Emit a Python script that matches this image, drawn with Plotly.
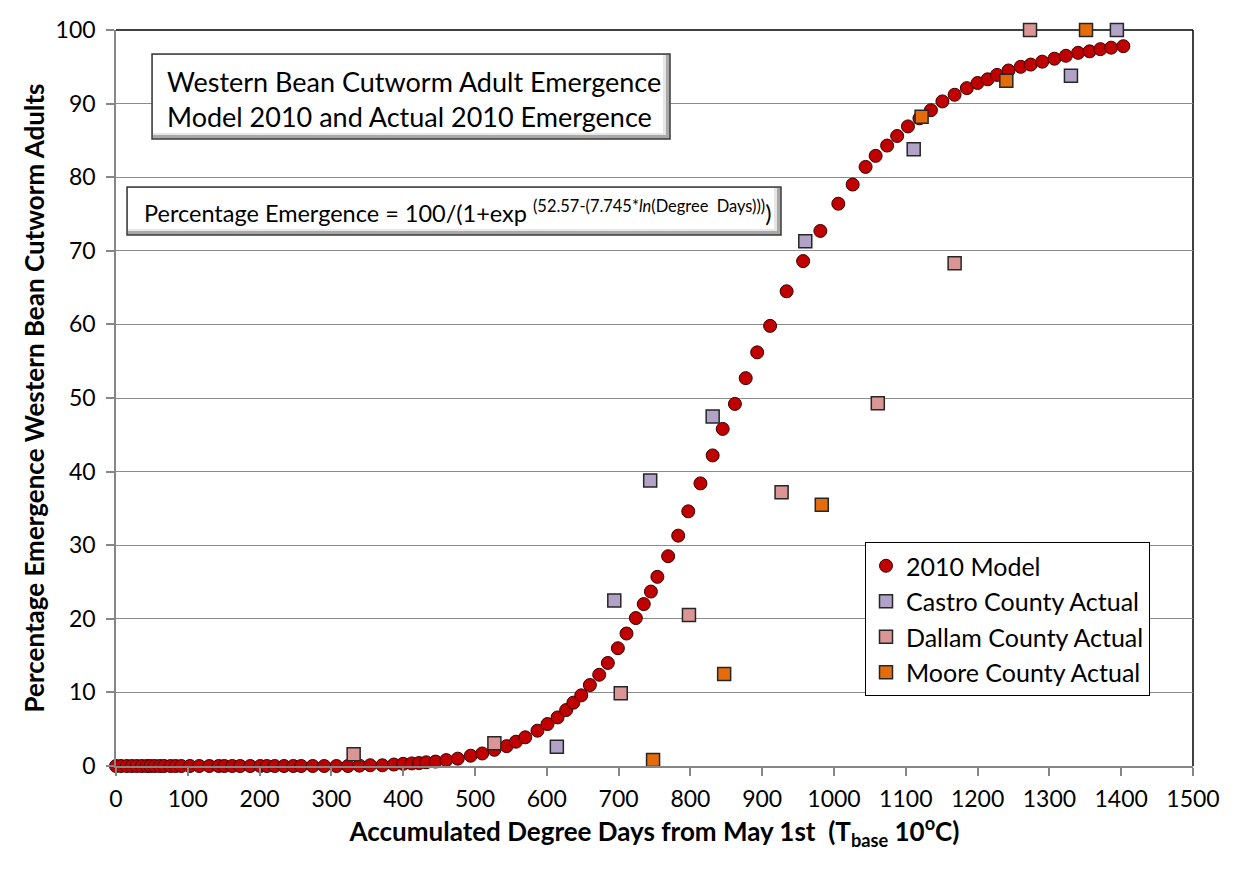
import plotly.graph_objects as go

# ---------------- data ----------------
model_x = [0, 7, 15, 22, 29, 36, 43, 48, 54, 61,
           67, 76, 83, 91, 103, 116, 130, 143, 151, 162,
           173, 187, 201, 210, 221, 234, 247, 258, 274, 290,
           307,
           323, 339, 354, 371, 387, 400, 412, 422, 432, 445,
           460, 476, 494, 510, 527, 544, 557, 570, 587, 601,
           615, 627, 637, 648, 660, 673, 685, 699, 711, 724,
           735, 745, 754, 769, 783, 797, 814, 831, 845, 862,
           877, 893, 911, 934, 957, 981, 1006, 1026, 1044, 1058,
           1074, 1088, 1103, 1119, 1135, 1151, 1168, 1185, 1200, 1214,
           1227, 1243, 1260, 1274, 1290, 1307, 1323, 1340, 1356, 1371,
           1386, 1403]
model_y = [0, 0, 0, 0, 0, 0, 0, 0, 0, 0,
           0, 0, 0, 0, 0, 0, 0, 0, 0, 0,
           0, 0, 0, 0, 0, 0, 0, 0, 0, 0,
           0,
           0.0, 0.05, 0.1, 0.1, 0.2, 0.3, 0.35, 0.4, 0.5, 0.6,
           0.8, 1.0, 1.4, 1.7, 2.2, 2.7, 3.3, 3.9, 4.8, 5.7,
           6.6, 7.6, 8.6, 9.6, 11.0, 12.4, 14.0, 16.0, 18.0, 20.1,
           22.0, 23.7, 25.7, 28.5, 31.3, 34.6, 38.4, 42.2, 45.8, 49.2,
           52.7, 56.2, 59.8, 64.5, 68.6, 72.7, 76.4, 79.0, 81.4, 82.9,
           84.3, 85.6, 86.9, 88.0, 89.1, 90.3, 91.2, 92.1, 92.8, 93.3,
           93.9, 94.5, 95.0, 95.3, 95.7, 96.1, 96.5, 96.9, 97.1, 97.4,
           97.6, 97.8]

castro_x = [614, 694, 744, 831, 960, 1111, 1330, 1394]
castro_y = [2.6, 22.5, 38.8, 47.5, 71.3, 83.8, 93.8, 100]

dallam_x = [331, 527, 703, 798, 927, 1061, 1168, 1273]
dallam_y = [1.6, 3.1, 9.9, 20.5, 37.2, 49.3, 68.3, 100]

moore_x = [748, 847, 983, 1122, 1240, 1351]
moore_y = [0.8, 12.5, 35.5, 88.2, 93.1, 100]

x_ticks = list(range(0, 1501, 100))
y_ticks = list(range(0, 101, 10))

series_names = ["2010 Model", "Castro County Actual", "Dallam County Actual", "Moore County Actual"]

# ---------------- layout geometry ----------------
W, H = 1238, 871
ML, MR, MT, MB = 116, 45, 30, 105
PW, PH = W - ML - MR, H - MT - MB
FONT = "Lato"


def px(xp):
    return (xp - ML) / PW


def py(yp):
    return (H - MB - yp) / PH


fig = go.Figure()

fig.add_trace(go.Scatter(
    x=model_x, y=model_y, mode="markers", name=series_names[0],
    legendgroup="a",
    marker=dict(symbol="circle", size=13, color="#C00000",
                line=dict(color="#3a0000", width=1)),
    cliponaxis=False))

sq = dict(symbol="square", size=13, line=dict(color="#262626", width=1.5))
fig.add_trace(go.Scatter(x=castro_x, y=castro_y, mode="markers", name=series_names[1],
                         legendgroup="b", marker=dict(color="#B3A2C7", **sq), cliponaxis=False))
fig.add_trace(go.Scatter(x=dallam_x, y=dallam_y, mode="markers", name=series_names[2],
                         legendgroup="c", marker=dict(color="#D99694", **sq), cliponaxis=False))
fig.add_trace(go.Scatter(x=moore_x, y=moore_y, mode="markers", name=series_names[3],
                         legendgroup="d", marker=dict(color="#E46C0A", **sq), cliponaxis=False))

shapes = []
# plot-area top and right border
shapes.append(dict(type="line", xref="paper", yref="paper", x0=0, x1=1, y0=1, y1=1,
                   line=dict(color="#000000", width=1.5), layer="below"))
shapes.append(dict(type="line", xref="paper", yref="paper", x0=1, x1=1, y0=0, y1=1,
                   line=dict(color="#000000", width=1.5), layer="below"))


def bevel_box(x0, y0, x1, y1):
    shapes.append(dict(type="rect", xref="paper", yref="paper",
                       x0=px(x0), x1=px(x1), y0=py(y1), y1=py(y0),
                       fillcolor="#a8a8a8", line=dict(color="#3c3c3c", width=1.5), layer="above"))
    shapes.append(dict(type="rect", xref="paper", yref="paper",
                       x0=px(x0 + 1), x1=px(x1 - 4), y0=py(y1 - 4), y1=py(y0 + 1),
                       fillcolor="#e6e6e6", line=dict(width=0), layer="above"))
    shapes.append(dict(type="rect", xref="paper", yref="paper",
                       x0=px(x0 + 1), x1=px(x1 - 7), y0=py(y1 - 6), y1=py(y0 + 1),
                       fillcolor="#ffffff", line=dict(width=0), layer="above"))


bevel_box(152, 54, 670, 139)
bevel_box(127, 187, 781, 235)

annotations = [
    dict(xref="paper", yref="paper", x=px(165), y=py(99), xanchor="left", yanchor="middle",
         align="left", showarrow=False,
         text="Western Bean Cutworm Adult Emergence<br>Model 2010 and Actual 2010 Emergence",
         font=dict(family=FONT, size=27, color="#000000")),
    dict(xref="paper", yref="paper", x=px(142), y=py(211), xanchor="left", yanchor="middle",
         align="left", showarrow=False,
         text="Percentage Emergence = 100/(1+exp <sup>(52.57-(7.745*<i>ln</i>(Degree  Days)))</sup>)",
         font=dict(family=FONT, size=23.5, color="#000000")),
]

axis_common = dict(
    showline=True, linecolor="#868686", linewidth=1.5,
    ticks="outside", ticklen=8, tickcolor="#868686", tickwidth=1.5,
    tickfont=dict(family=FONT, size=23, color="#000000"),
    zeroline=False,
)

fig.update_layout(
    width=W, height=H, autosize=False,
    margin=dict(l=ML, r=MR, t=MT, b=MB, pad=0),
    paper_bgcolor="#ffffff", plot_bgcolor="#ffffff",
    font=dict(family=FONT, color="#000000"),
    xaxis=dict(range=[0, 1500], tickmode="array", tickvals=x_ticks,
               ticktext=[str(v) for v in x_ticks], showgrid=False,
               ticklabelstandoff=4,
               title=dict(text="<b>Accumulated Degree Days from May 1st \u00a0(T<sub>base</sub> 10<sup>o</sup>C)</b>",
                          font=dict(family=FONT, size=26, color="#000000"), standoff=10),
               **axis_common),
    yaxis=dict(range=[0, 100], tickmode="array", tickvals=y_ticks,
               ticktext=[str(v) for v in y_ticks], showgrid=True,
               gridcolor="#8c8c8c", gridwidth=1.2,
               ticklabelstandoff=6,
               title=dict(text="<b>Percentage Emergence Western Bean Cutworm Adults</b>",
                          font=dict(family=FONT, size=26, color="#000000"), standoff=4),
               **axis_common),
    legend=dict(x=px(865), y=py(542), xanchor="left", yanchor="top",
                bgcolor="#ffffff", bordercolor="#000000", borderwidth=1,
                font=dict(family=FONT, size=25, color="#000000"),
                tracegroupgap=0, itemsizing="trace"),
    showlegend=True,
    shapes=shapes,
    annotations=annotations,
)

fig.write_html("out.html")
